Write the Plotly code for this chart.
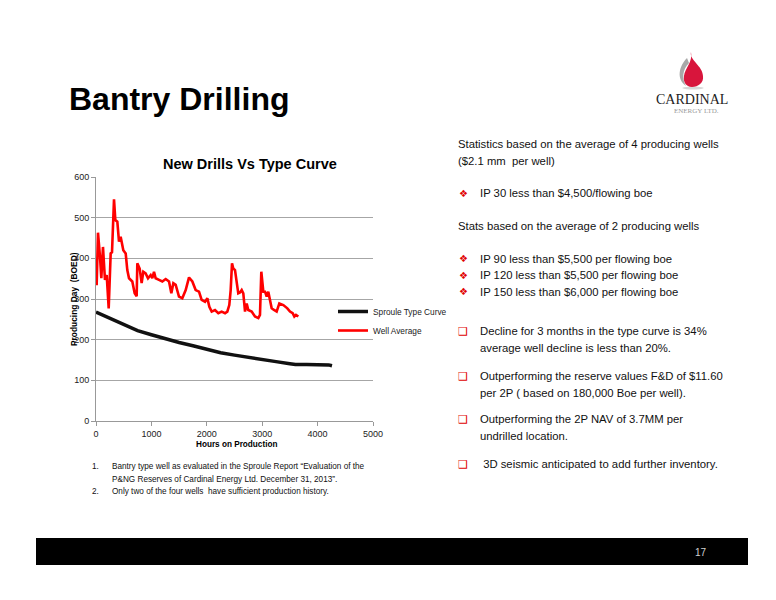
import plotly.graph_objects as go

# Sproule type curve
type_hours = [0, 250, 500, 750, 1000, 1250, 1500, 1750, 2000, 2250, 2500, 2750,
              3000, 3250, 3500, 3600, 3800, 4000, 4200, 4260]
type_boed = [268, 253, 238, 222, 212, 202, 193, 185, 176, 168, 162, 156,
             151, 146, 141, 139, 139, 139, 138, 136]

# Well average
well_hours = [12, 36, 72, 96, 126, 162, 193, 229, 265, 289, 325, 349, 385, 415, 445,
              493, 536, 565, 596, 655, 698, 734, 746, 788, 824, 854, 896, 939, 987,
              1017, 1047, 1077, 1137, 1197, 1258, 1318, 1360, 1396, 1438, 1498, 1558,
              1619, 1679, 1739, 1799, 1859, 1907, 1968, 2010, 2046, 2088, 2148, 2208,
              2268, 2329, 2370, 2406, 2431, 2455, 2478, 2509, 2539, 2568, 2599, 2630,
              2659, 2690, 2720, 2749, 2810, 2870, 2930, 2960, 2984, 3020, 3051, 3081,
              3110, 3141, 3171, 3213, 3261, 3309, 3381, 3454, 3502, 3550, 3580, 3610,
              3652]
well_boed = [334, 463, 404, 351, 428, 347, 359, 277, 412, 415, 545, 494, 490, 441, 453,
             420, 412, 371, 351, 343, 314, 307, 388, 375, 339, 367, 363, 351, 359,
             351, 367, 351, 347, 343, 349, 343, 314, 339, 335, 306, 302,
             322, 353, 343, 322, 318, 298, 293, 302, 281, 269, 273, 265,
             269, 265, 269, 285, 322, 388, 375, 371, 343, 314, 316, 322,
             314, 269, 289, 273, 269, 257, 253, 261, 367, 318, 318, 306,
             318, 298, 277, 273, 269, 289, 285, 277, 269, 265, 257, 261,
             257]

stats_lines = ["Statistics based on the average of 4 producing wells", "($2.1 mm  per well)"]
bullets_ip30 = ["IP 30 less than $4,500/flowing boe"]
stats_two = "Stats based on the average of 2 producing wells"
bullets_ip = ["IP 90 less than $5,500 per flowing boe",
              "IP 120 less than $5,500 per flowing boe",
              "IP 150 less than $6,000 per flowing boe"]
box_points = [["Decline for 3 months in the type curve is 34%", "average well decline is less than 20%."],
              ["Outperforming the reserve values F&D of $11.60", "per 2P ( based on 180,000 Boe per well)."],
              ["Outperforming the 2P NAV of 3.7MM per", "undrilled location."],
              [" 3D seismic anticipated to add further inventory."]]
footnotes = ["Bantry type well as evaluated in the Sproule Report \u201cEvaluation of the",
             "P&NG Reserves of Cardinal Energy Ltd. December 31, 2013\u201d.",
             "Only two of the four wells  have sufficient production history."]

SANS = "Liberation Sans, Arial, sans-serif"

# plot area in page pixels (the figure sits 8px in from the page corner)
L, R, T, B = 96, 373, 177, 421
OFF = 8


def px(x):
    return (x - L) / (R - L)


def py(y):
    return (B - y) / (B - T)


fig = go.Figure()
fig.add_trace(go.Scatter(x=type_hours, y=type_boed, mode="lines", name="Sproule Type Curve",
                         line=dict(color="#111111", width=3.5)))
fig.add_trace(go.Scatter(x=well_hours, y=well_boed, mode="lines", name="Well Average",
                         line=dict(color="#ff0000", width=2.6)))

ann = []


def text(x, y, s, size=11.3, color="#111111", anchor="left", family=SANS, bold=False):
    if bold:
        s = "<b>" + s + "</b>"
    ann.append(dict(x=px(x), y=py(y), xref="paper", yref="paper", text=s, showarrow=False,
                    xanchor=anchor, yanchor="middle", font=dict(family=family, size=size, color=color)))


text(67, 99, "Bantry Drilling", size=32, color="#000000", bold=True)
text(250, 164, "New Drills Vs Type Curve", size=14.5, color="#000000", anchor="center", bold=True)
text(236, 444, "Hours on Production", size=8.2, color="#000000", anchor="center", bold=True)
ann.append(dict(x=px(74), y=py(299), xref="paper", yref="paper", text="<b>Producing Day  (BOED)</b>",
                showarrow=False, textangle=-90, xanchor="center", yanchor="middle",
                font=dict(family=SANS, size=8.4, color="#000000")))

# right column
text(456, 144, stats_lines[0])
text(456, 161, stats_lines[1])
text(463, 193, "\u2756", size=10, color="#e00000", anchor="center", family="DejaVu Sans")
text(478, 193, bullets_ip30[0])
text(456, 226, stats_two)
for i, s in enumerate(bullets_ip):
    yy = 258.5 + i * 16.5
    text(463, yy, "\u2756", size=10, color="#e00000", anchor="center", family="DejaVu Sans")
    text(478, yy, s)
box_y = [331, 376, 419, 464]
for yy, lines in zip(box_y, box_points):
    text(463, yy, "\u2751", size=11, color="#e00000", anchor="center", family="DejaVu Sans")
    for j, s in enumerate(lines):
        text(478, yy + j * 16.5, s)

# footnotes
text(101, 467, "1.", size=8.2, anchor="right")
text(110, 467, footnotes[0], size=8.2)
text(110, 479, footnotes[1], size=8.2)
text(101, 491, "2.", size=8.2, anchor="right")
text(110, 491, footnotes[2], size=8.2)

# logo text
text(692, 100, "CARDINAL", size=14, color="#222222", anchor="center", family="Liberation Serif, serif")
text(696, 111, "ENERGY LTD.", size=7, color="#9a9a9a", anchor="center", family="Liberation Serif, serif")

# footer
text(701, 552, "17", size=10, color="#d0d0d0", anchor="center")


def path(pts):
    out = "M {:.4f} {:.4f}".format(px(pts[0][0]), py(pts[0][1]))
    for seg in pts[1:]:
        out += " C " + " ".join("{:.4f} {:.4f}".format(px(a), py(b)) for a, b in seg)
    return out + " Z"


shapes = [
    dict(type="rect", xref="paper", yref="paper", x0=px(36), x1=px(748), y0=py(538), y1=py(565),
         fillcolor="#000000", line=dict(width=0), layer="above"),
    dict(type="path", xref="paper", yref="paper", fillcolor="#d7d7d7", line=dict(width=0),
         path=path([(682, 88), [(686, 86), (700, 86), (704, 88)], [(700, 90), (686, 90), (682, 88)]])),
    dict(type="path", xref="paper", yref="paper", fillcolor="#a8a8a8", line=dict(width=0),
         path=path([(687, 58), [(679, 66), (676, 79), (686, 86)], [(682, 79), (682, 70), (689, 63)]])),
    dict(type="path", xref="paper", yref="paper", fillcolor="#d8153c", line=dict(width=0),
         path=path([(691, 52), [(689, 60), (703, 66), (703, 76)], [(704, 83), (698, 87), (692, 87)],
                    [(686, 87), (683, 82), (684, 76)], [(685, 68), (693, 62), (691, 52)]])),
]

W, H = 776 - OFF, 600 - OFF
fig.update_layout(
    width=W, height=H,
    margin=dict(l=L - OFF, r=W - (R - OFF), t=T - OFF, b=H - (B - OFF)),
    paper_bgcolor="white", plot_bgcolor="white",
    showlegend=True,
    legend=dict(x=px(333), y=py(297), xanchor="left", yanchor="top", bgcolor="rgba(0,0,0,0)",
                font=dict(family=SANS, size=8.3, color="#222222"), itemwidth=30),
    xaxis=dict(range=[0, 5000], dtick=1000, showgrid=False, showline=True, linecolor="#999999",
               ticks="outside", ticklen=4, tickcolor="#999999", zeroline=False,
               tickfont=dict(family=SANS, size=9, color="#222222")),
    yaxis=dict(range=[0, 600], dtick=100, showgrid=True, gridcolor="#a6a6a6", showline=True,
               linecolor="#999999", ticks="outside", ticklen=4, tickcolor="#999999", zeroline=False,
               tickfont=dict(family=SANS, size=9, color="#222222")),
    annotations=ann,
    shapes=shapes,
)

fig.write_html("out.html")
